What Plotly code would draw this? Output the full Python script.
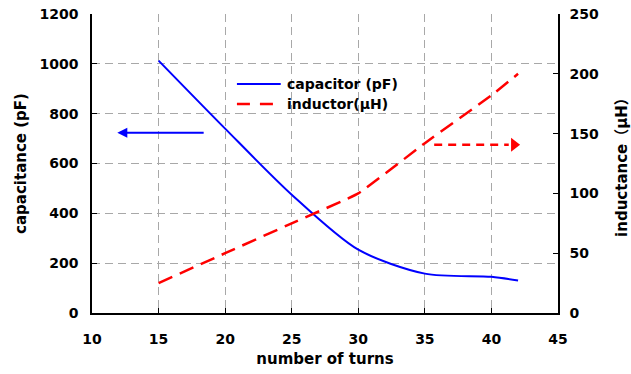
import plotly.graph_objects as go

turns_c = [15, 20, 25, 30, 35, 40, 42]
capacitance_pf = [1013, 740, 475, 254, 158, 145, 130]

turns_l = [15, 20, 25, 30, 35, 40, 42]
inductance_uh = [25, 50, 75, 100, 142, 182, 200]

x_ticks = [10, 15, 20, 25, 30, 35, 40, 45]
y1_ticks = [0, 200, 400, 600, 800, 1000, 1200]
y2_ticks = [0, 50, 100, 150, 200, 250]

legend_labels = ["capacitor (pF)", "inductor(μH)"]

FONT = "DejaVu Sans, Noto Sans CJK JP"
BLUE = "#0000ff"
RED = "#ff0000"
GRID = "#a8a8a8"

fig = go.Figure()
fig.add_trace(go.Scatter(
    x=turns_c, y=capacitance_pf, mode="lines", name=legend_labels[0],
    line=dict(color=BLUE, width=2, shape="spline", smoothing=0.8),
))
fig.add_trace(go.Scatter(
    x=turns_l, y=inductance_uh, mode="lines", name=legend_labels[1], yaxis="y2",
    line=dict(color=RED, width=2.5, dash="15px,8px", shape="spline", smoothing=0.3),
))
# arrowhead for the dashed red arrow
fig.add_trace(go.Scatter(
    x=[41.7], y=[140.7], mode="markers", yaxis="y2", showlegend=False,
    marker=dict(symbol="triangle-right", size=12, color=RED), hoverinfo="skip",
))

fig.add_shape(type="line", xref="x", yref="y2", x0=35.7, x1=41.3, y0=140.7, y1=140.7,
              line=dict(color=RED, width=2.5, dash="8px,6px"))
fig.add_annotation(x=11.9, y=723, ax=18.5, ay=723, xref="x", yref="y", axref="x", ayref="y",
                   text="", showarrow=True, arrowhead=2, arrowsize=1, arrowwidth=2,
                   arrowcolor=BLUE)

# legend drawn by hand (line samples + labels)
legfont = dict(family=FONT, size=14, color="black", weight="bold")
fig.add_shape(type="line", xref="paper", yref="paper", x0=0.311, x1=0.405, y0=0.766, y1=0.766,
              line=dict(color=BLUE, width=2))
fig.add_shape(type="line", xref="paper", yref="paper", x0=0.311, x1=0.405, y0=0.699, y1=0.699,
              line=dict(color=RED, width=2.5, dash="13px,10px"))
fig.add_annotation(x=0.414, y=0.766, xref="paper", yref="paper", text=legend_labels[0],
                   showarrow=False, xanchor="left", yanchor="middle", font=legfont)
fig.add_annotation(x=0.414, y=0.699, xref="paper", yref="paper", text=legend_labels[1],
                   showarrow=False, xanchor="left", yanchor="middle", font=legfont)

tickfont = dict(family=FONT, size=14, color="black", weight="bold")
titlefont = dict(family=FONT, size=15, color="black", weight="bold")

fig.update_layout(
    width=631, height=374,
    margin=dict(l=92, r=73, t=14, b=61, autoexpand=False),
    plot_bgcolor="white", paper_bgcolor="white",
    showlegend=False,
    xaxis=dict(range=[10, 45], tickvals=x_ticks, ticks="inside", ticklen=5,
               tickcolor="black", showline=True, linecolor="black", linewidth=1.5,
               showgrid=True, gridcolor=GRID, griddash="8px,5px", gridwidth=1,
               zeroline=False, tickfont=tickfont, ticklabelstandoff=12, automargin=False,
               title=dict(text="number of turns", font=titlefont, standoff=8)),
    yaxis=dict(range=[0, 1200], tickvals=y1_ticks, ticks="inside", ticklen=5,
               tickcolor="black", showline=True, linecolor="black", linewidth=1.5,
               showgrid=True, gridcolor=GRID, griddash="8px,5px", gridwidth=1,
               zeroline=False, tickfont=tickfont, ticklabelstandoff=9, automargin=False,
               title=dict(text="capacitance (pF)", font=titlefont, standoff=9)),
    yaxis2=dict(range=[0, 250], tickvals=y2_ticks, ticks="inside", ticklen=5,
                tickcolor="black", showline=True, linecolor="black", linewidth=1.5,
                overlaying="y", side="right", showgrid=False, zeroline=False,
                tickfont=tickfont, ticklabelstandoff=7, automargin=False,
                title=dict(text="inductance（μH）", font=titlefont, standoff=19)),
)

fig.write_html("out.html")
